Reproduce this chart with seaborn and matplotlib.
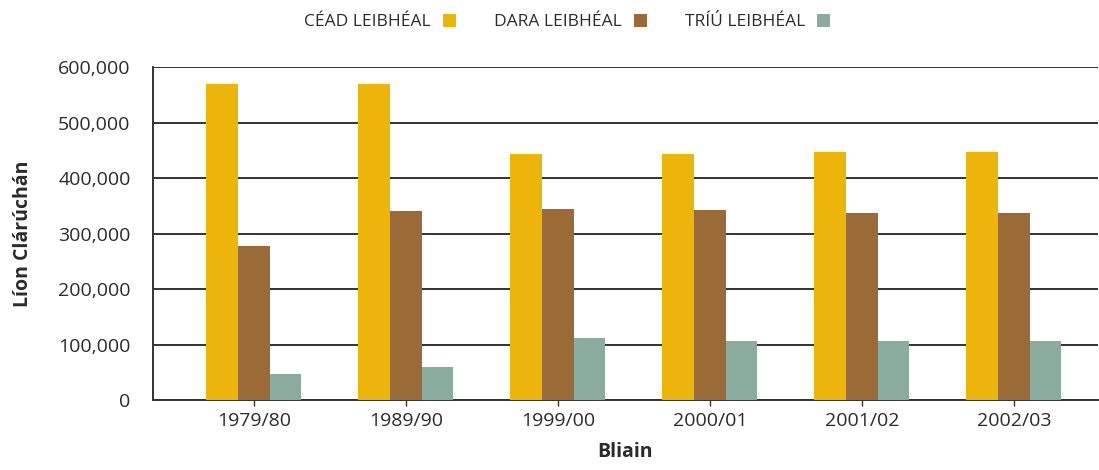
# Librerías
import pandas as pd
import matplotlib
matplotlib.use("Agg")
import matplotlib.pyplot as plt
import matplotlib.ticker as mticker
import seaborn as sns

sns.set_theme(style="white")
plt.rcParams['font.family'] = ['Open Sans', 'DejaVu Sans']

# Datos
blianta = ['1979/80', '1989/90', '1999/00', '2000/01', '2001/02', '2002/03']
cead_leibheal = [569000, 569000, 444000, 444000, 448000, 448000]
dara_leibheal = [278000, 341000, 345000, 343000, 338000, 338000]
triu_leibheal = [46000, 60000, 111000, 107000, 107000, 107000]
sraitheanna = ['CÉAD LEIBHÉAL', 'DARA LEIBHÉAL', 'TRÍÚ LEIBHÉAL']
dathanna = ['#EDB40C', '#9A6B37', '#8AAC9F']

df = pd.DataFrame({
    'Bliain': blianta * 3,
    'Leibhéal': [s for s in sraitheanna for _ in blianta],
    'Líon': cead_leibheal + dara_leibheal + triu_leibheal,
})

fig = plt.figure(figsize=(10.99, 4.70), dpi=100)
ax = fig.add_axes([0.139, 0.149, 0.86, 0.708])

sns.barplot(data=df, x='Bliain', y='Líon', hue='Leibhéal', palette=dathanna,
            width=0.625, gap=0, saturation=1, linewidth=0, ax=ax, zorder=3)

ax.set_ylim(0, 600000)
ax.set_xlim(-0.664, 5.553)
ax.set_yticks(range(0, 600001, 100000))
ax.yaxis.set_major_formatter(mticker.FuncFormatter(lambda v, p: f'{int(v):,}'))
ax.grid(axis='y', color='#333333', linewidth=1.4, zorder=0)
ax.set_axisbelow(True)

for s in ['top', 'right']:
    ax.spines[s].set_visible(False)
for s in ['left', 'bottom']:
    ax.spines[s].set_color('#333333')
    ax.spines[s].set_linewidth(1.4)

ax.tick_params(axis='x', length=4, width=1, color='#333333', labelsize=14,
               labelcolor='#2b2b2b', pad=5, bottom=True)
ax.tick_params(axis='y', length=0, labelsize=14, labelcolor='#2b2b2b', pad=16)

ax.set_xlabel('Bliain', fontsize=14, fontweight='bold', color='#2b2b2b', labelpad=8)
ax.set_ylabel('Líon Clárúchán', fontsize=14, fontweight='bold', color='#2b2b2b', labelpad=18)

handles, labels = ax.get_legend_handles_labels()
ax.get_legend().remove()
fig.legend(handles, labels, loc='center', bbox_to_anchor=(0.516, 0.953), ncol=3,
           frameon=False, markerfirst=False, handlelength=0.75,
           handleheight=0.75, handletextpad=0.7, columnspacing=2.2,
           labelcolor='#2b2b2b', prop={'size': 12.5})

plt.savefig('out.png', dpi=100)
